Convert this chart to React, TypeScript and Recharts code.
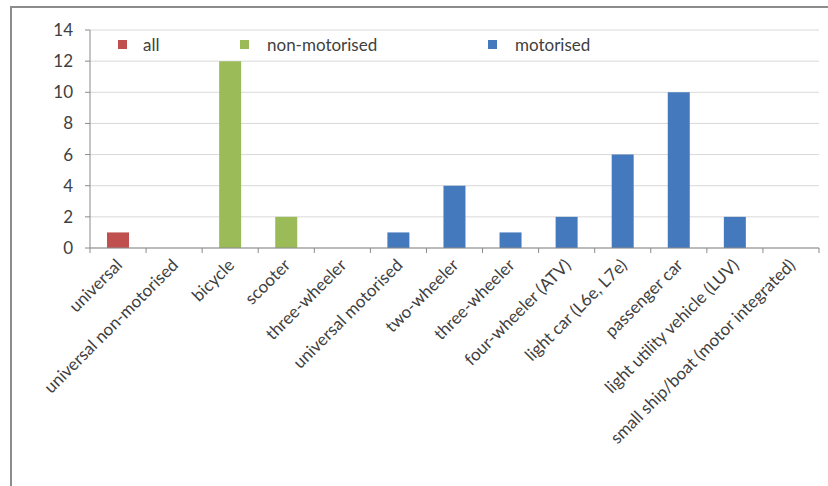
import React from "react";
import { BarChart, Bar, XAxis, YAxis, CartesianGrid, Legend } from "recharts";

const categories = [
  "universal",
  "universal non-motorised",
  "bicycle",
  "scooter",
  "three-wheeler",
  "universal motorised",
  "two-wheeler",
  "three-wheeler ",
  "four-wheeler (ATV)",
  "light car (L6e, L7e)",
  "passenger car",
  "light utility vehicle (LUV)",
  "small ship/boat (motor integrated)",
];
const allValues = [1, 0, 0, 0, 0, 0, 0, 0, 0, 0, 0, 0, 0];
const nonMotorisedValues = [0, 0, 12, 2, 0, 0, 0, 0, 0, 0, 0, 0, 0];
const motorisedValues = [0, 0, 0, 0, 0, 1, 4, 1, 2, 6, 10, 2, 0];
const yTicks = [0, 2, 4, 6, 8, 10, 12, 14];

const seriesInfo = [
  { key: "all", name: "all", color: "#c0504d" },
  { key: "nonMotorised", name: "non-motorised", color: "#9bbb59" },
  { key: "motorised", name: "motorised", color: "#4579be" },
];

const data = categories.map((c, i) => ({
  name: c,
  all: allValues[i],
  nonMotorised: nonMotorisedValues[i],
  motorised: motorisedValues[i],
}));

const FONT = "Lato, 'Open Sans', sans-serif";
const TEXT = "#404040";
const AXIS = "#8a8a8a";

const XTick = (props: any) => {
  const { x, y, payload, index, visibleTicksCount } = props;
  const w = typeof props.width === "number" ? props.width : 729;
  const band = w / (visibleTicksCount || categories.length);
  const px = x + 1;
  const py = y + 14;
  return (
    <g>
      <line x1={x - band / 2} y1={y} x2={x - band / 2} y2={y + 5} stroke={AXIS} />
      {index === (visibleTicksCount || categories.length) - 1 && (
        <line x1={x + band / 2} y1={y} x2={x + band / 2} y2={y + 5} stroke={AXIS} />
      )}
      <text
        x={px}
        y={py}
        dy="0.35em"
        textAnchor="end"
        fill={TEXT}
        fontSize={17}
        fontFamily={FONT}
        transform={`rotate(-45, ${px}, ${py})`}
      >
        {String(payload.value).trim()}
      </text>
    </g>
  );
};

const legendLefts = [118, 240, 488];

const LegendContent = () => (
  <div style={{ position: "relative", width: 828, height: 20 }}>
    {seriesInfo.map((s, i) => (
      <div
        key={s.key}
        style={{
          position: "absolute",
          left: legendLefts[i],
          top: 0,
          display: "flex",
          alignItems: "center",
          fontFamily: FONT,
          fontSize: 17,
          color: TEXT,
          whiteSpace: "nowrap",
        }}
      >
        <span style={{ display: "inline-block", width: 9, height: 9, background: s.color, marginRight: i === 0 ? 16 : 18 }} />
        <span>{s.name}</span>
      </div>
    ))}
  </div>
);

export default function App() {
  return (
    <div style={{ position: "absolute", left: 0, top: 0, width: 828, height: 486, overflow: "hidden", background: "#fff" }}>
      <div style={{ position: "absolute", left: 0, top: 0 }}>
        <BarChart
          width={828}
          height={486}
          data={data}
          margin={{ top: 30, right: 9, bottom: 0, left: 0 }}
        >
          <CartesianGrid vertical={false} stroke="#d9d9d9" />
          <XAxis
            dataKey="name"
            interval={0}
            tickLine={false}
            tickSize={0}
            tickMargin={0}
            axisLine={{ stroke: AXIS }}
            tick={<XTick />}
            height={238}
          />
          <YAxis
            domain={[0, 14]}
            ticks={yTicks}
            width={90}
            axisLine={{ stroke: AXIS }}
            tickLine={{ stroke: AXIS }}
            tickSize={5}
            tickMargin={12}
            tick={{ fill: TEXT, fontSize: 17, fontFamily: FONT }}
          />
          <YAxis
            yAxisId="r"
            orientation="right"
            width={0}
            domain={[0, 14]}
            tick={false}
            tickLine={false}
            axisLine={{ stroke: "#a6a6a6" }}
          />
          <Legend
            layout="horizontal"
            verticalAlign="middle"
            align="center"
            content={<LegendContent />}
            wrapperStyle={{ top: 34, left: 0, width: 828 }}
          />
          {seriesInfo.map((s) => (
            <Bar
              key={s.key}
              dataKey={s.key}
              name={s.name}
              stackId="a"
              fill={s.color}
              barSize={22}
              isAnimationActive={false}
            />
          ))}
        </BarChart>
      </div>
      <div
        style={{
          position: "absolute",
          left: 10,
          top: 6,
          width: 900,
          height: 600,
          border: "2px solid #8c8c8c",
          boxSizing: "border-box",
          pointerEvents: "none",
        }}
      />
    </div>
  );
}
